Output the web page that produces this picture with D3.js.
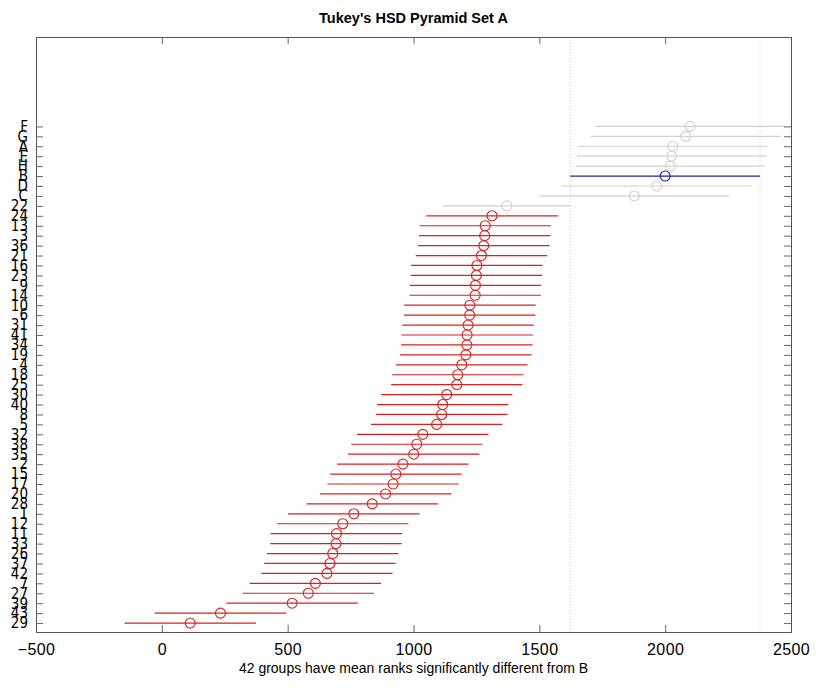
<!DOCTYPE html>
<html>
<head>
<meta charset="utf-8">
<script src="https://cdn.jsdelivr.net/npm/d3@7"></script>
<style>
  body { margin: 0; background: #fff; }
  text { font-family: "Liberation Sans", Arial, Helvetica, sans-serif; }
</style>
</head>
<body>
<svg width="816" height="688"></svg>
<script>
// groups from top to bottom as they appear on the y axis
const groups = ["F","G","A","E","H","B","D","C",
  "22","24","13","3","36","21","16","23","9","14","10","6","31","41","34","19",
  "4","18","25","30","40","8","5","32","38","35","2","15","17","20","28","1",
  "12","11","33","26","37","42","7","27","39","43","29"];

const meanRanks = [2100,2082,2030,2026,2021,2000,1967,1877,
  1371,1312,1285,1283,1279,1270,1252,1250,1246,1245,1224,1223,1217,1213,1212,1208,
  1192,1176,1172,1132,1116,1112,1092,1037,1013,1001,958,930,919,889,836,763,
  719,694,692,679,668,656,610,582,518,233,113];

// half width of each comparison interval
const halfWidths = [378,378,377,377,376,377,377,376,
  256,262,261,261,261,261,261,261,261,261,261,261,261,261,261,261,
  261,261,261,261,261,261,261,261,261,261,261,261,261,261,261,261,
  261,261,261,261,261,261,261,261,261,261,261];

const xTicks = [-500, 0, 500, 1000, 1500, 2000, 2500];
const control = "B";
const titleText = "Tukey's HSD Pyramid Set A";
const xLabel = "42 groups have mean ranks significantly different from B";

const margin = { top: 37, right: 25, bottom: 56, left: 36 };
const width = +d3.select("svg").attr("width") - margin.left - margin.right;
const height = +d3.select("svg").attr("height") - margin.top - margin.bottom;

const svg = d3.select("svg")
    .append("g")
    .attr("transform", `translate(${margin.left},${margin.top})`);

const n = groups.length;
const rows = groups.map((g, i) => ({
    name: g,
    pos: n - i,
    mean: meanRanks[i],
    lo: meanRanks[i] - halfWidths[i],
    hi: meanRanks[i] + halfWidths[i]
}));
const ref = rows.find(d => d.name === control);
rows.forEach(d => {
    if (d.name === control) d.color = "#1f1fa8";
    else if (d.hi < ref.lo || d.lo > ref.hi) d.color = "#d92020";
    else d.color = "#d0d0d0";
});

const x = d3.scaleLinear().domain([-500, 2500]).range([0, width]);
const y = d3.scaleLinear().domain([0.1, 60]).range([height, 0]);

// dotted reference lines at the control group's limits
svg.selectAll(".refline")
    .data([ref.lo, ref.hi])
    .enter().append("line")
    .attr("x1", d => x(d)).attr("x2", d => x(d))
    .attr("y1", 0).attr("y2", height)
    .attr("stroke", "#c8c8c8")
    .attr("stroke-dasharray", "1,2");

// intervals
svg.selectAll(".ci")
    .data(rows)
    .enter().append("line")
    .attr("x1", d => x(d.lo)).attr("x2", d => x(d.hi))
    .attr("y1", d => y(d.pos)).attr("y2", d => y(d.pos))
    .attr("stroke", d => d.color)
    .attr("stroke-width", 1.2);

svg.selectAll(".mean")
    .data(rows)
    .enter().append("circle")
    .attr("cx", d => x(d.mean))
    .attr("cy", d => y(d.pos))
    .attr("r", 5)
    .attr("fill", "none")
    .attr("stroke", d => d.color)
    .attr("stroke-width", 1.1);

// axes, ticks pointing inward
const yTicks = rows.map(d => d.pos);
const labelOf = p => groups[n - p];

const xb = svg.append("g")
    .attr("transform", `translate(0,${height})`)
    .call(d3.axisBottom(x).tickValues(xTicks).tickSize(-7).tickPadding(12).tickFormat(d3.format("d")));
const xt = svg.append("g")
    .call(d3.axisTop(x).tickValues(xTicks).tickSize(-7).tickFormat(""));
const yl = svg.append("g")
    .call(d3.axisLeft(y).tickValues(yTicks).tickSize(-7).tickPadding(8).tickFormat(labelOf));
const yr = svg.append("g")
    .attr("transform", `translate(${width},0)`)
    .call(d3.axisRight(y).tickValues(yTicks).tickSize(-7).tickFormat(""));

[xb, xt, yl, yr].forEach(a => {
    a.select(".domain").attr("stroke", "#555");
    a.selectAll(".tick line").attr("stroke", "#666");
});

xb.selectAll("text")
    .style("font-size", "16px")
    .style("letter-spacing", "0.4px")
    .attr("fill", "#000");

yl.selectAll("text")
    .style("font-size", "15px")
    .style("font-family", "\"DejaVu Sans Condensed\", \"Liberation Sans Narrow\", sans-serif")
    .attr("fill", "#000");

d3.select("svg").append("text")
    .attr("x", margin.left + width / 2)
    .attr("y", 23)
    .attr("text-anchor", "middle")
    .style("font-size", "14.5px")
    .style("font-weight", "bold")
    .text(titleText);

d3.select("svg").append("text")
    .attr("x", margin.left + width / 2)
    .attr("y", 673)
    .attr("text-anchor", "middle")
    .style("font-size", "14px")
    .text(xLabel);
</script>
</body>
</html>
